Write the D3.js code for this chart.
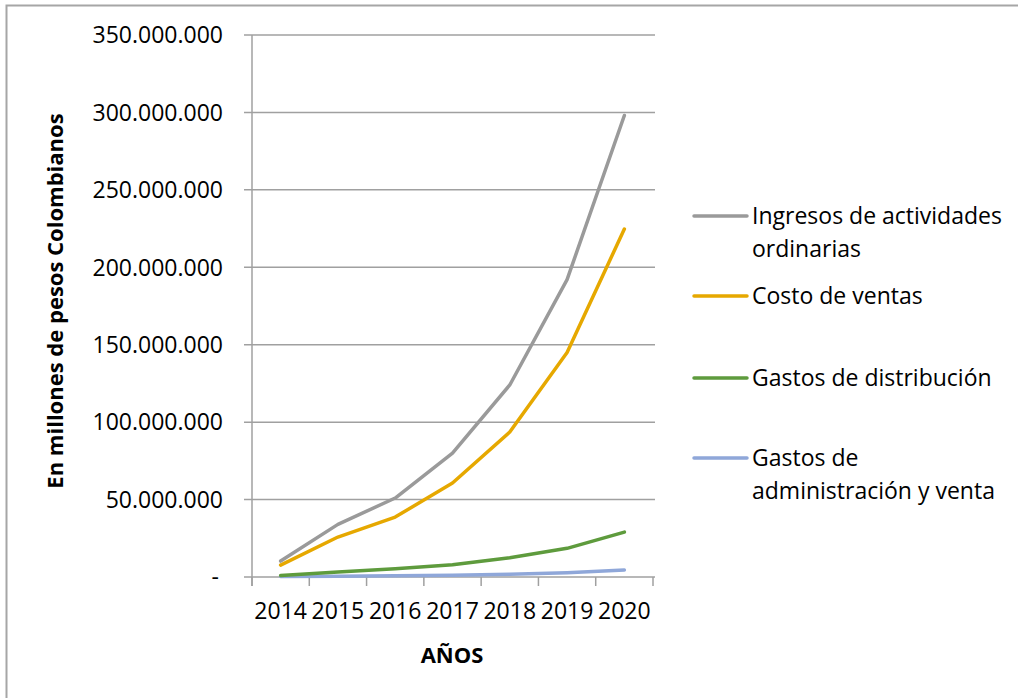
<!DOCTYPE html>
<html><head><meta charset="utf-8">
<script src="https://cdn.jsdelivr.net/npm/d3@7/dist/d3.min.js"></script>
<style>
html,body{margin:0;padding:0;background:#fff;overflow:hidden}
text{font-family:"Open Sans",sans-serif;fill:#000}
</style></head>
<body>
<script>
const years = ["2014","2015","2016","2017","2018","2019","2020"];
const seriesNames = ["Ingresos de actividades ordinarias","Costo de ventas","Gastos de distribución","Gastos de administración y venta"];
const ingresos = [10300000, 34000000, 51000000, 80000000, 124000000, 192000000, 298000000];
const costo = [7700000, 25800000, 38700000, 60700000, 93600000, 145000000, 224700000];
const distribucion = [1000000, 3300000, 5300000, 7900000, 12400000, 18500000, 29000000];
const administracion = [300000, 500000, 800000, 1200000, 1800000, 2800000, 4500000];
const yTicks = [0, 50000000, 100000000, 150000000, 200000000, 250000000, 300000000, 350000000];
const colors = ["#9a9a9a", "#e6a800", "#5e9b3d", "#8fa7d9"];
const legendLines = [["Ingresos de actividades","ordinarias"],["Costo de ventas"],["Gastos de distribución"],["Gastos de","administración y venta"]];

(function(){
const W = 1018, H = 698;
const svg = d3.select("body").append("svg").attr("width", W).attr("height", H);
svg.append("rect").attr("x",6.5).attr("y",5.5).attr("width",1030).attr("height",720)
  .attr("fill","#fff").attr("stroke","#a6a6a6").attr("stroke-width",2);

const pLeft = 252, pRight = 653, pTop = 35, pBottom = 577;
const x = d3.scaleBand().domain(years).range([pLeft, pRight]);
const y = d3.scaleLinear().domain([0, 350000000]).range([pBottom, pTop]);

const fmt = v => v === 0 ? "-" : d3.format(",")(v).replace(/,/g, ".");

const g = svg.append("g");
g.selectAll("line.grid").data(yTicks).join("line")
  .attr("x1", pLeft - 8).attr("x2", pRight + 2)
  .attr("y1", d => y(d)).attr("y2", d => y(d))
  .attr("stroke", "#a0a0a0").attr("stroke-width", 1.5);

g.append("line").attr("x1", pLeft).attr("x2", pLeft).attr("y1", pTop).attr("y2", pBottom + 9)
  .attr("stroke", "#a0a0a0").attr("stroke-width", 1.5);

const xEdges = years.map(d => x(d)).concat([pRight]);
g.selectAll("line.xt").data(xEdges).join("line")
  .attr("x1", d => d).attr("x2", d => d).attr("y1", pBottom).attr("y2", pBottom + 9)
  .attr("stroke", "#a0a0a0").attr("stroke-width", 1.5);

g.selectAll("text.yl").data(yTicks).join("text")
  .attr("x", d => d === 0 ? 219 : 223).attr("y", d => y(d)).attr("dy", "0.36em")
  .attr("text-anchor", "end").style("font-size", "23px").text(fmt);

g.selectAll("text.xl").data(years).join("text")
  .attr("x", d => x(d) + x.bandwidth() / 2).attr("y", 611).attr("dy", "0.36em")
  .attr("text-anchor", "middle").style("font-size", "23px").text(d => d);

svg.append("text").attr("transform", "translate(55,301) rotate(-90)")
  .attr("text-anchor", "middle").attr("dy", "0.36em")
  .style("font-size", "22px").style("font-weight", "bold")
  .text("En millones de pesos Colombianos");
svg.append("text").attr("x", 452).attr("y", 655).attr("dy", "0.36em")
  .attr("text-anchor", "middle").style("font-size", "22px").style("font-weight", "bold")
  .text("AÑOS");

const allSeries = [ingresos, costo, distribucion, administracion];
const line = d3.line().x((d, i) => x(years[i]) + x.bandwidth() / 2).y(d => y(d));
const drawOrder = [3, 2, 1, 0];
svg.selectAll("path.series").data(drawOrder).join("path")
  .attr("d", i => line(allSeries[i]))
  .attr("fill", "none").attr("stroke", i => colors[i]).attr("stroke-width", 3.5)
  .attr("stroke-linejoin", "round").attr("stroke-linecap", "round");

const legendY = [216, 296, 378, 458];
const leg = svg.append("g");
legendLines.forEach((lines, i) => {
  leg.append("line").attr("x1", 694).attr("x2", 747).attr("y1", legendY[i]).attr("y2", legendY[i])
    .attr("stroke", colors[i]).attr("stroke-width", 3.5).attr("stroke-linecap", "round");
  lines.forEach((t, j) => {
    leg.append("text").attr("x", 752).attr("y", legendY[i] + j * 33).attr("dy", "0.36em")
      .style("font-size", "23px").text(t);
  });
});
})();
</script>
</body></html>
